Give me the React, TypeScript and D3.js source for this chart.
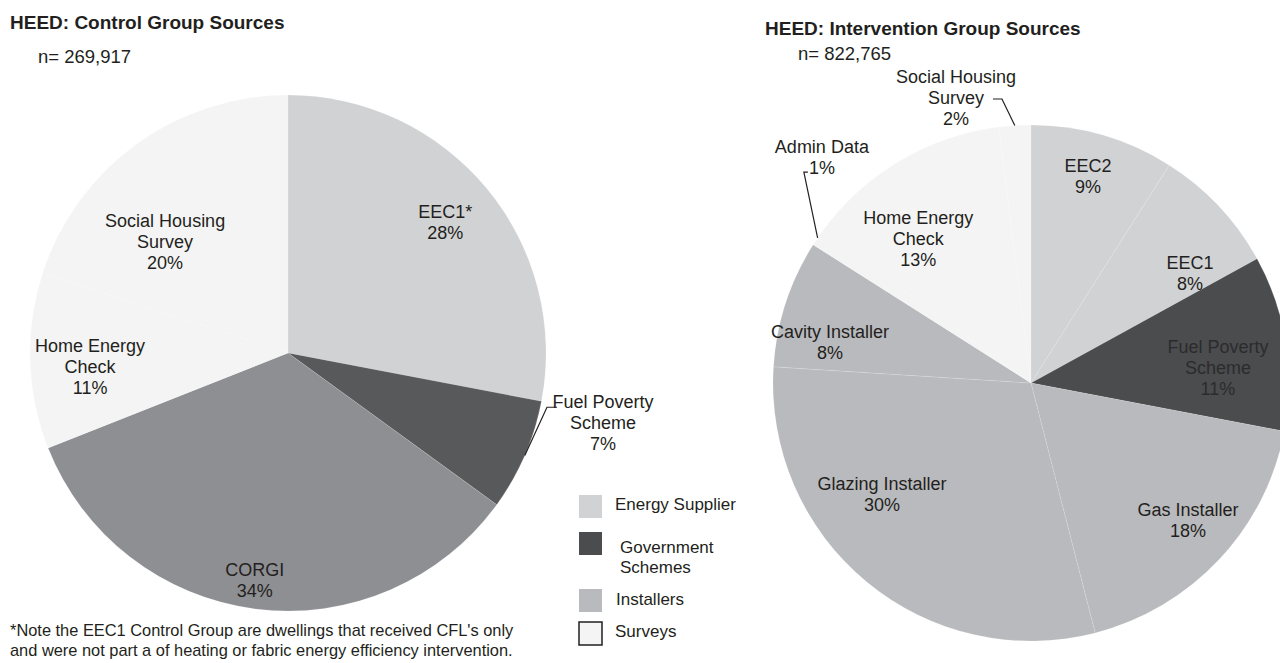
import React from "react";
import * as d3 from "d3";

// ---------- data ----------
const controlLabels = ["EEC1*", "Fuel Poverty Scheme", "CORGI", "Home Energy Check", "Social Housing Survey"];
const controlValues = [28, 7, 34, 11, 20];
const controlGroups = ["Energy Supplier", "Government Schemes (control)", "CORGI", "Surveys", "Surveys"];
const controlN = "n= 269,917";

const interventionLabels = [
  "EEC2", "EEC1", "Fuel Poverty Scheme", "Gas Installer", "Glazing Installer",
  "Cavity Installer", "Admin Data", "Home Energy Check", "Social Housing Survey",
];
const interventionValues = [9, 8, 11, 18, 30, 8, 1, 13, 2];
const interventionGroups = [
  "Energy Supplier", "Energy Supplier", "Government Schemes", "Installers", "Installers",
  "Installers", "Surveys", "Surveys", "Surveys",
];
const interventionN = "n= 822,765";

const legendNames = ["Energy Supplier", "Government Schemes", "Installers", "Surveys"];
const footnote = [
  "*Note the EEC1 Control Group are dwellings that received CFL's only",
  "and were not part a of heating or fabric energy efficiency intervention.",
];

// ---------- styling / layout ----------
const FONT = "'Liberation Sans', Arial, Helvetica, sans-serif";
const colors: Record<string, string> = {
  "Energy Supplier": "#d1d2d4",
  "Government Schemes": "#4b4c4e",
  "Government Schemes (control)": "#58595b",
  Installers: "#b9babd",
  CORGI: "#8e8f93",
  Surveys: "#f4f4f4",
};
const R = 258;
const LINE = 21;

// label lines (split), polar placement: [radiusFraction, angleNudgeDeg]
const controlLines = [["EEC1*", "28%"], ["Fuel Poverty", "Scheme", "7%"], ["CORGI", "34%"], ["Home Energy", "Check", "11%"], ["Social Housing", "Survey", "20%"]];
const controlPlace: [number, number][] = [[0.793, -0.2], [1.25, -11], [0.891, 1.1], [0.769, -2.2], [0.642, -11.9]];
const controlLeader: (null | [number, number][])[] = [null, [[-56, -15], [-46, -15]], null, null, null];

const interventionLines = [
  ["EEC2", "9%"], ["EEC1", "8%"], ["Fuel Poverty", "Scheme", "11%"], ["Gas Installer", "18%"],
  ["Glazing Installer", "30%"], ["Cavity Installer", "8%"], ["Admin Data", "1%"],
  ["Home Energy", "Check", "13%"], ["Social Housing", "Survey", "2%"],
];
const interventionPlace: [number, number][] = [
  [0.832, -0.8], [0.75, 8.4], [0.727, 4.4], [0.808, -2.1], [0.72, 13.7],
  [0.795, -6.5], [1.193, 13], [0.712, -7.3], [1.146, -11.1],
];
const interventionLeader: (null | [number, number][])[] = [
  null, null, null, null, null, null, [[-18, 15], [-14, 15]], null, [[46, 2], [37, 2]],
];

function Pie(props: {
  cx: number; cy: number; values: number[]; groups: string[];
  lines: string[][]; place: [number, number][]; leaders: (null | [number, number][])[];
  textColors?: (string | null)[];
}) {
  const { cx, cy, values, groups, lines, place, leaders, textColors } = props;
  const pie = d3.pie<number>().sort(null).value((d) => d).startAngle(0).endAngle(2 * Math.PI);
  const arcs = pie(values);
  const arc = d3.arc<d3.PieArcDatum<number>>().innerRadius(0).outerRadius(R);
  const polar = (a: number, r: number): [number, number] => [Math.sin(a) * r, -Math.cos(a) * r];
  return (
    <g transform={`translate(${cx},${cy})`}>
      {arcs.map((a, i) => (
        <path key={i} d={arc(a) || ""} fill={colors[groups[i]]} stroke="#ffffff" strokeOpacity={0.25} strokeWidth={0.5} />
      ))}
      {arcs.map((a, i) => {
        const mid = (a.startAngle + a.endAngle) / 2;
        const [rf, nudge] = place[i];
        const [lx, ly] = polar(mid + (nudge * Math.PI) / 180, rf * R);
        const ls = lines[i];
        const leader = leaders[i];
        const edge = polar(mid, R);
        return (
          <g key={"l" + i}>
            {leader && (
              <polyline
                points={[edge, ...leader.map(([dx, dy]) => [lx + dx, ly + dy])].map((p) => p.join(",")).join(" ")}
                fill="none" stroke="#231f20" strokeWidth={1.2}
              />
            )}
            <text
              x={lx}
              y={ly}
              textAnchor="middle"
              fontFamily={FONT}
              fontSize={18}
              fill={(textColors && textColors[i]) || "#231f20"}
            >
              {ls.map((t, j) => (
                <tspan key={j} x={lx} y={ly + (j - (ls.length - 1) / 2) * LINE} dy="0.36em">{t}</tspan>
              ))}
            </text>
          </g>
        );
      })}
    </g>
  );
}

export default function App() {
  const legendRows = [
    { y: 495, tx: 615, ty: [510] , lines: ["Energy Supplier"] },
    { y: 532, tx: 620, ty: [553, 573], lines: ["Government", "Schemes"] },
    { y: 589, tx: 616, ty: [605], lines: ["Installers"] },
    { y: 622, tx: 615, ty: [637], lines: ["Surveys"] },
  ];
  return (
    <svg
      width={1280}
      height={663}
      style={{ position: "absolute", left: 0, top: 0, background: "#ffffff" }}
    >
      <rect width={1280} height={663} fill="#ffffff" />
      <text x={10} y={29} fontFamily={FONT} fontWeight="bold" fontSize={19} fill="#231f20">HEED: Control Group Sources</text>
      <text x={38} y={63} fontFamily={FONT} fontSize={18.5} fill="#231f20">{controlN}</text>
      <text x={765} y={35} fontFamily={FONT} fontWeight="bold" fontSize={19} fill="#231f20">HEED: Intervention Group Sources</text>
      <text x={798} y={60} fontFamily={FONT} fontSize={18.5} fill="#231f20">{interventionN}</text>

      <Pie cx={288} cy={353} values={controlValues} groups={controlGroups} lines={controlLines} place={controlPlace} leaders={controlLeader} />
      <Pie
        cx={1031}
        cy={383}
        values={interventionValues}
        groups={interventionGroups}
        lines={interventionLines}
        place={interventionPlace}
        leaders={interventionLeader}
        textColors={[null, null, "#2b2b2d", null, null, null, null, null, null]}
      />

      {legendNames.map((name, i) => {
        const row = legendRows[i];
        return (
          <g key={name}>
            <rect
              x={579}
              y={row.y}
              width={23}
              height={23}
              fill={colors[name]}
              stroke={name === "Surveys" ? "#231f20" : "none"}
              strokeWidth={1.5}
            />
            {row.lines.map((t, j) => (
              <text key={j} x={row.tx} y={row.ty[j]} fontFamily={FONT} fontSize={17} fill="#231f20">{t}</text>
            ))}
          </g>
        );
      })}

      {footnote.map((t, i) => (
        <text key={i} x={10} y={636 + i * 20} fontFamily={FONT} fontSize={16.4} fill="#231f20">{t}</text>
      ))}
      <desc>{controlLabels.join(", ") + "; " + interventionLabels.join(", ")}</desc>
    </svg>
  );
}
